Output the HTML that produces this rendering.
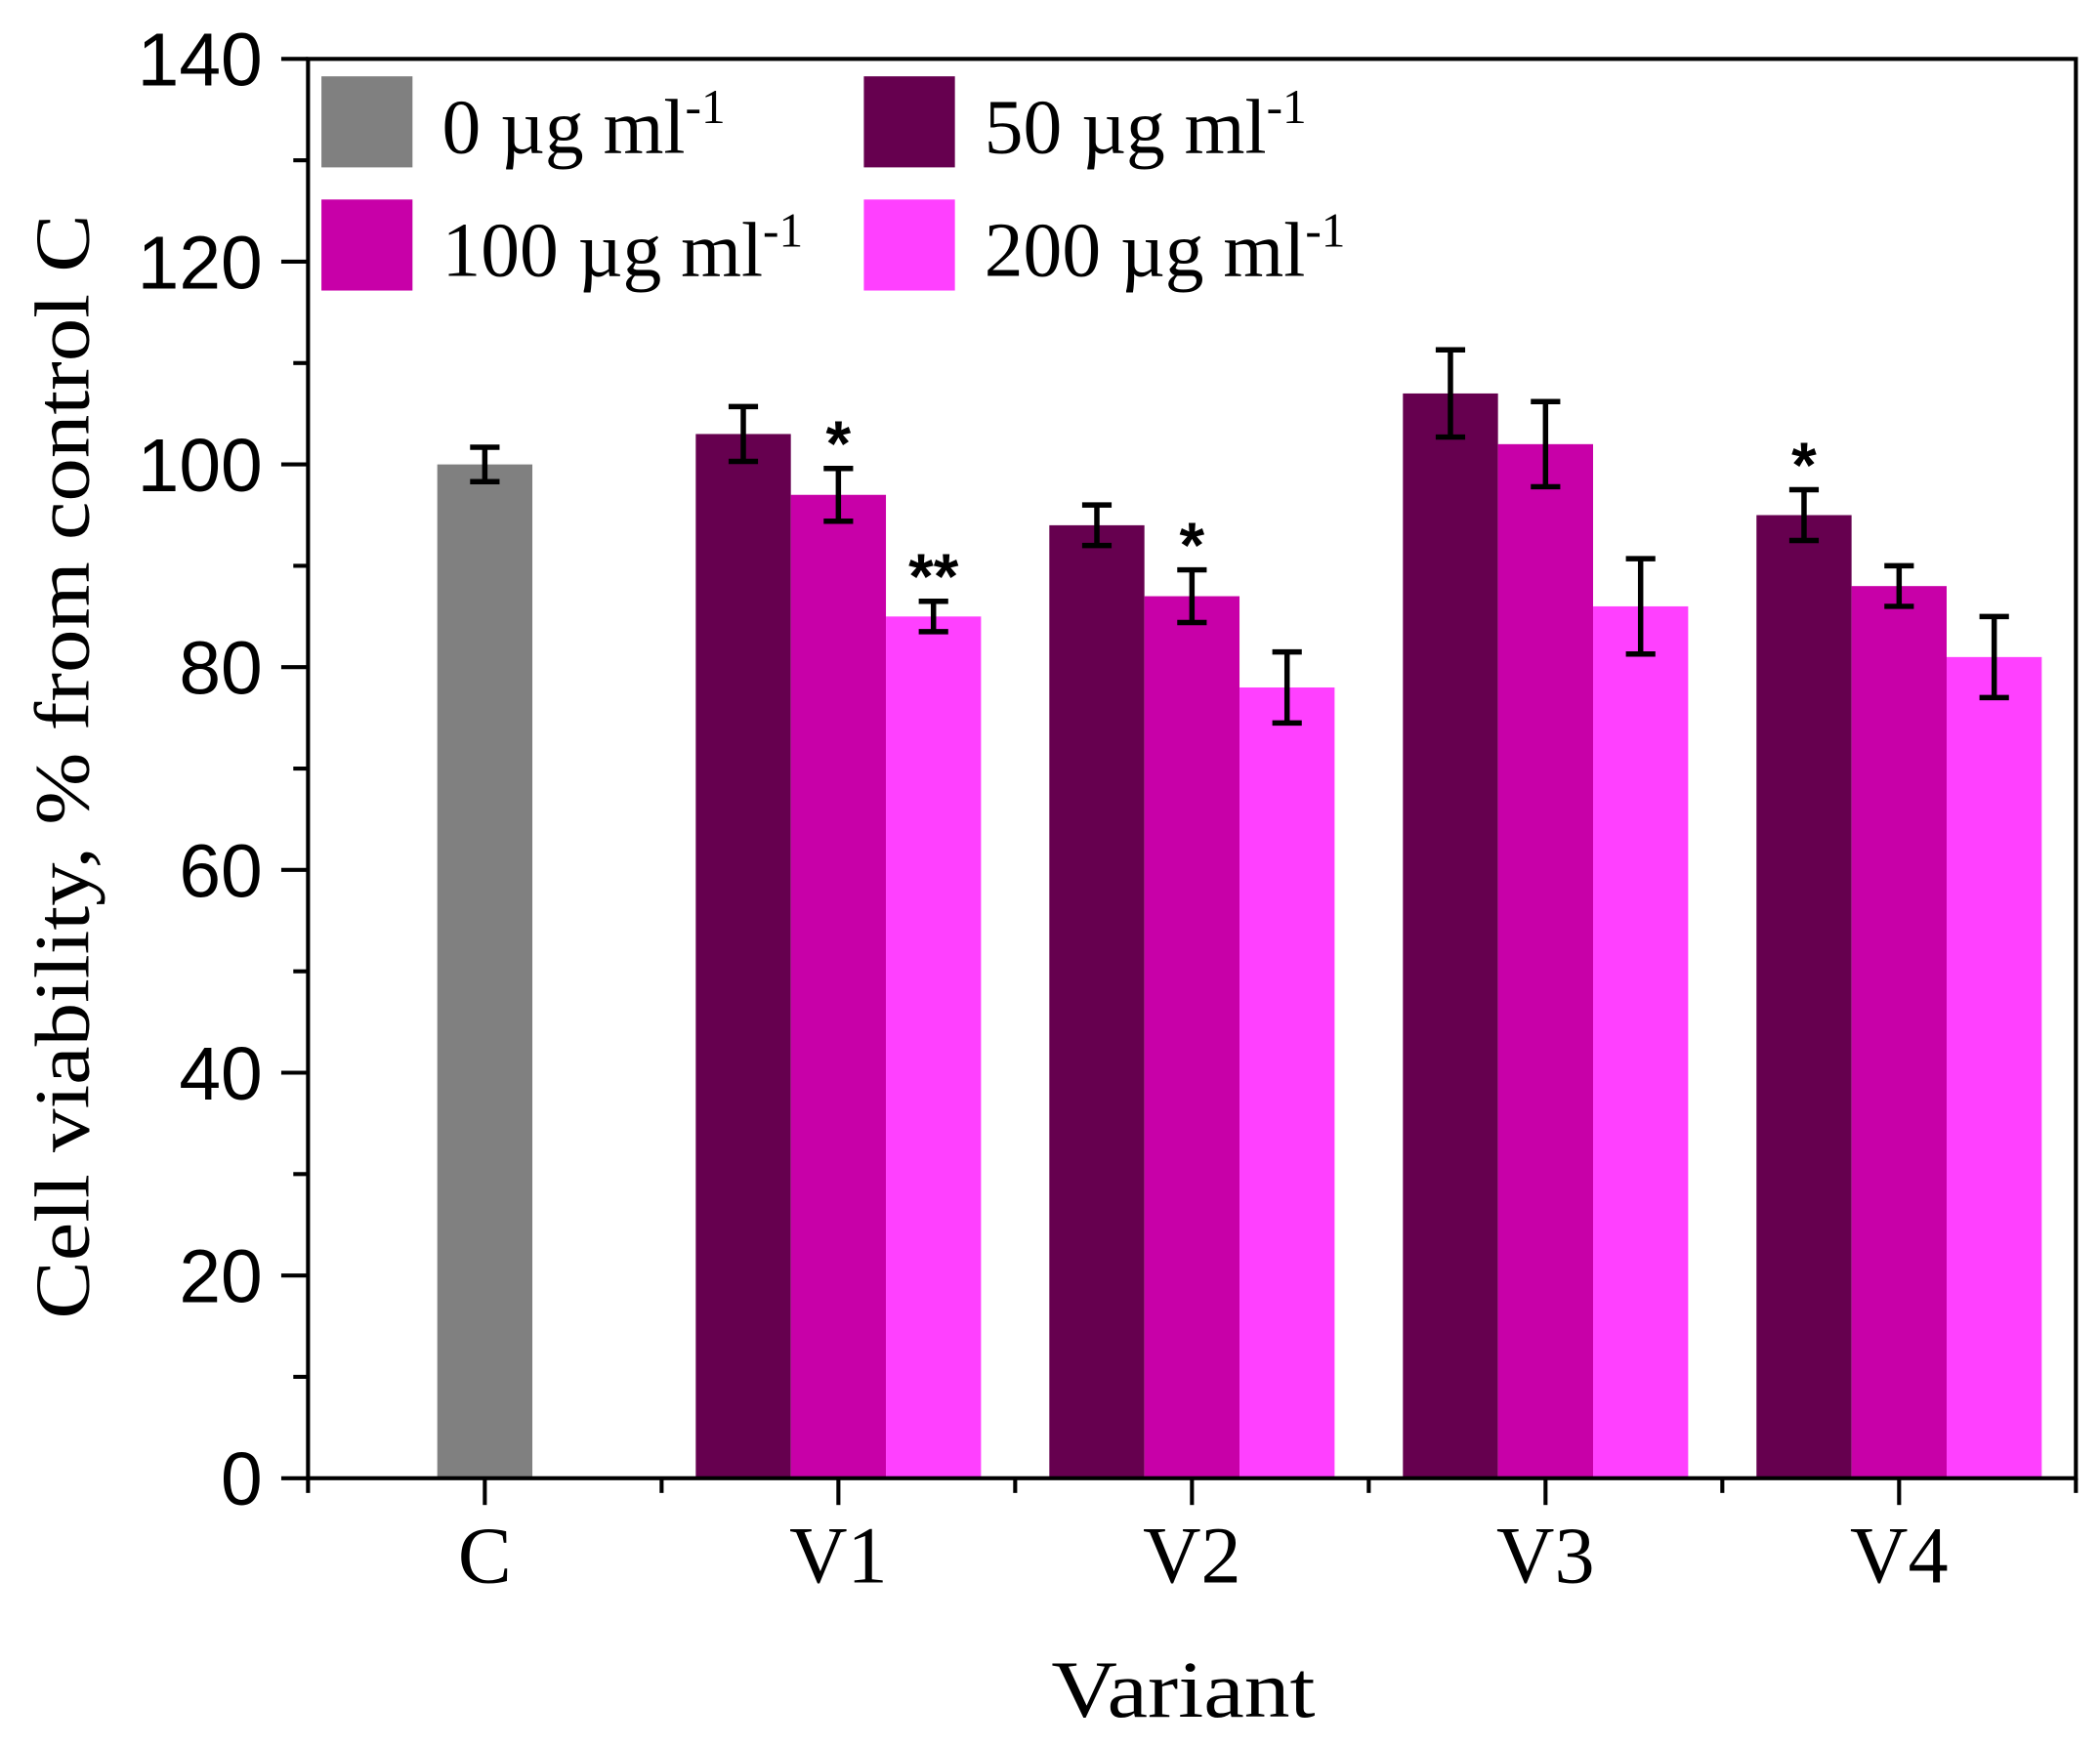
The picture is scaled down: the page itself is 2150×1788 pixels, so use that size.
<!DOCTYPE html>
<html><head><meta charset="utf-8"><style>html,body{margin:0;padding:0;background:#fff}svg{display:block}</style></head>
<body>
<svg id="chart" width="2150" height="1788" viewBox="0 0 1568 1304" preserveAspectRatio="none" xmlns="http://www.w3.org/2000/svg">
<g id="plot"></g>
</svg>
<script>
const categories = ["C","V1","V2","V3","V4"];
const seriesNames = ["0 µg ml-1","50 µg ml-1","100 µg ml-1","200 µg ml-1"];
const seriesColors = ["#808080","#66004f","#c800a8","#ff40ff"];
const controlValue = [100];
const controlErr = [1.7];
const s50 = [103,94,107,95];
const s50err = [2.7,2,4.3,2.5];
const s100 = [97,87,102,88];
const s100err = [2.6,2.6,4.2,2];
const s200 = [85,78,86,81];
const s200err = [1.5,3.5,4.7,4];
const stars = [["","*","**"],["","*",""],["","",""],["*","",""]];
const yTicks = [0,20,40,60,80,100,120,140];

const NS="http://www.w3.org/2000/svg";
const g=document.getElementById('plot');
const L=230,R=1550,T=44,B=1104;
const y=v=>B-(v/140)*(B-T);
const xc=i=>362+264*i;
const BW=71;
function el(tag,attrs,parent){const e=document.createElementNS(NS,tag);for(const k in attrs)e.setAttribute(k,attrs[k]);(parent||g).appendChild(e);return e;}
function errbar(x,v,e){
  const l=el('path',{d:`M${x},${y(v-e)}V${y(v+e)}M${x-11},${y(v-e)}H${x+11}M${x-11},${y(v+e)}H${x+11}`,stroke:'#000','stroke-width':4,fill:'none'});
  
  
}
{
  const r=el('rect',{x:xc(0)-BW/2,y:y(controlValue[0]),width:BW,height:B-y(controlValue[0]),fill:seriesColors[0]});
  
  
  errbar(xc(0),controlValue[0],controlErr[0]);
}
const ser=[[s50,s50err],[s100,s100err],[s200,s200err]];
for(let i=0;i<4;i++){
  for(let s=0;s<3;s++){
    const v=ser[s][0][i],e=ser[s][1][i];
    const cx=xc(i+1)+(s-1)*BW;
    const r=el('rect',{x:cx-BW/2,y:y(v),width:BW,height:B-y(v),fill:seriesColors[s+1]});
    
    
    errbar(cx,v,e);
    if(stars[i][s]){
      const t=el('text',{x:cx,y:y(v+e)-2,'font-family':'Liberation Sans, sans-serif','font-size':48,'font-weight':'bold','text-anchor':'middle'});
      t.textContent=stars[i][s];
      
      
    }
  }
}
const fr=el('rect',{x:L,y:T,width:R-L,height:B-T,fill:'none',stroke:'#000','stroke-width':3});


for(let v=0;v<=140;v+=10){
  const major=v%20===0;
  el('line',{x1:major?210:219,x2:L,y1:y(v),y2:y(v),stroke:'#000','stroke-width':3});
}
yTicks.forEach(v=>{
  const t=el('text',{x:196,y:y(v)+20,'font-family':'Liberation Sans, sans-serif','font-size':56,'text-anchor':'end'});
  t.textContent=v;
  
  
});
categories.forEach((c,i)=>{
  el('line',{x1:xc(i),x2:xc(i),y1:B,y2:B+20,stroke:'#000','stroke-width':3});
  el('line',{x1:xc(i)+132,x2:xc(i)+132,y1:B,y2:B+11,stroke:'#000','stroke-width':3});
  const t=el('text',{x:xc(i),y:1182,'font-family':'Liberation Serif, serif','font-size':60,'text-anchor':'middle'});
  t.textContent=c;
  
  
});
el('line',{x1:xc(0)-132,x2:xc(0)-132,y1:B,y2:B+11,stroke:'#000','stroke-width':3});
{
  const t=el('text',{x:785,y:1282,'font-family':'Liberation Serif, serif','font-size':60,textLength:197,lengthAdjust:'spacingAndGlyphs'});
  t.textContent='Variant';
  
  
  const t2=el('text',{x:0,y:0,transform:'translate(66,985) rotate(-90)','font-family':'Liberation Serif, serif','font-size':58,textLength:825,lengthAdjust:'spacingAndGlyphs'});
  t2.textContent='Cell viability, % from control C';
  
  
}
const lg=[[240,57,'0 µg ml'],[645,57,'50 µg ml'],[240,149,'100 µg ml'],[645,149,'200 µg ml']];
lg.forEach((d,k)=>{
  const r=el('rect',{x:d[0],y:d[1],width:68,height:68,fill:seriesColors[k]});
  
  
  const t=el('text',{x:d[0]+90,y:d[1]+57,'font-family':'Liberation Serif, serif','font-size':58});
  t.textContent=d[2];
  const sp=el('tspan',{dy:-22,'font-size':36},t);
  sp.textContent='-1';
  
  
});
</script>
</body></html>
